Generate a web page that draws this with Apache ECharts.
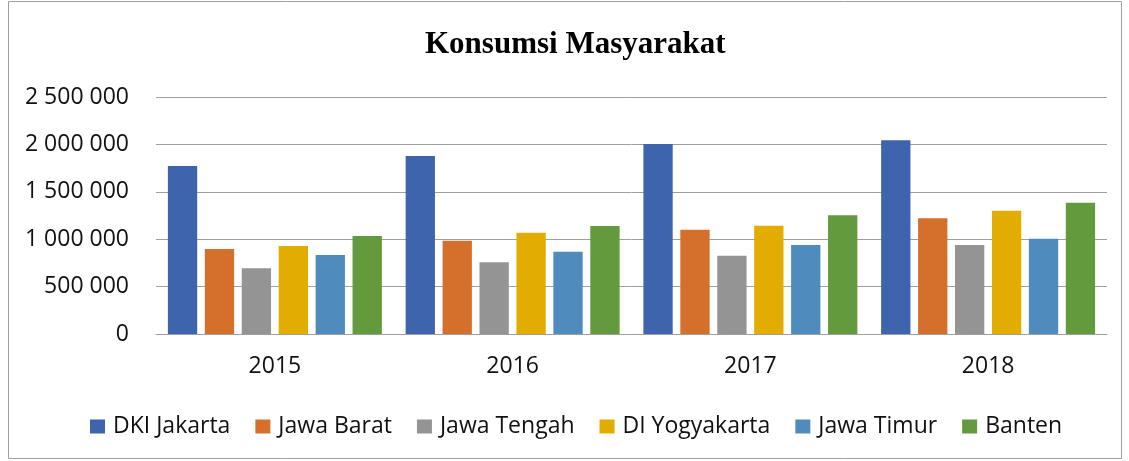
<!DOCTYPE html>
<html><head><meta charset="utf-8">
<script src="https://cdn.jsdelivr.net/npm/echarts@6/dist/echarts.min.js"></script>
<style>html,body{margin:0;padding:0;background:#fff}#c{width:1129px;height:461px}</style>
</head><body><div id="c"></div>
<script>
const years = ['2015','2016','2017','2018'];
const seriesNames = ['DKI Jakarta','Jawa Barat','Jawa Tengah','DI Yogyakarta','Jawa Timur','Banten'];
const dkiJakarta = [1772000, 1878000, 2004000, 2043000];
const jawaBarat = [897000, 984000, 1100000, 1220000];
const jawaTengah = [693000, 756000, 826000, 939000];
const diYogyakarta = [928000, 1069000, 1143000, 1301000];
const jawaTimur = [833000, 868000, 939000, 1005000];
const banten = [1034000, 1139000, 1252000, 1385000];
const colors = ['#3d64ad','#d46f2c','#949494','#e2ac00','#508bbe','#649a3e'];
const allData = [dkiJakarta, jawaBarat, jawaTengah, diYogyakarta, jawaTimur, banten];

const chart = echarts.init(document.getElementById('c'));
const font = '"Open Sans", "Noto Sans", sans-serif';
chart.setOption({
  animation: false,
  color: colors,
  title: {
    text: 'Konsumsi Masyarakat', left: 420, top: 24,
    textStyle: { fontFamily: '"Liberation Serif", serif', fontWeight: 'bold', fontSize: 31, color: '#000' }
  },
  graphic: [{ type: 'rect', shape: { x: 8.5, y: 1.5, width: 1113, height: 457 }, style: { fill: 'none', stroke: '#a0a0a0', lineWidth: 1 }, silent: true }],
  grid: { left: 156, right: 22, top: 97, bottom: 127 },
  legend: {
    top: 415, left: 90, itemWidth: 15, itemHeight: 14, itemGap: 25, icon: 'rect', padding: 0,
    textStyle: { fontFamily: font, fontSize: 23, color: '#111', padding: [0,0,0,3] },
    data: seriesNames
  },
  xAxis: {
    type: 'category', data: years,
    axisLine: { lineStyle: { color: '#a0a0a0' } }, axisTick: { show: false },
    axisLabel: { fontFamily: font, fontSize: 23, color: '#111', margin: 21 }
  },
  yAxis: {
    type: 'value', min: 0, max: 2500000, interval: 500000,
    axisLine: { show: false }, axisTick: { show: false },
    splitLine: { lineStyle: { color: '#a0a0a0', width: 1 } },
    axisLabel: { fontFamily: font, fontSize: 23, color: '#111', margin: 27,
      formatter: v => String(v).replace(/\B(?=(\d{3})+(?!\d))/g, ' ') }
  },
  series: seriesNames.map((n, i) => ({
    name: n, type: 'bar', data: allData[i],
    barCategoryGap: '10%', barGap: '26%'
  }))
});
</script></body></html>
